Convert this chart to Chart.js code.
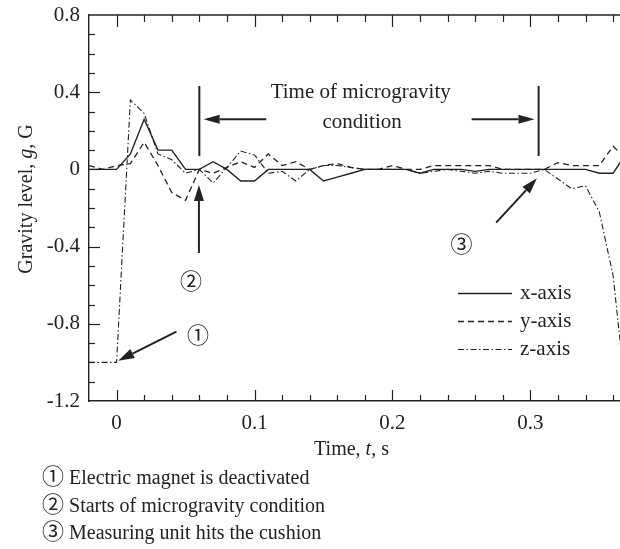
<!DOCTYPE html>
<html><head><meta charset="utf-8">
<script src="https://cdn.jsdelivr.net/npm/chart.js@4/dist/chart.umd.min.js"></script>
<style>
html,body{margin:0;padding:0;background:#fff;}
#wrap{position:relative;width:620px;height:549px;overflow:hidden;}
#c{position:absolute;left:0;top:0;}
.note{position:absolute;left:42px;font-family:"Liberation Serif","Times New Roman",serif;font-size:20px;color:#222;line-height:28px;white-space:nowrap;}
.note .n{font-family:"Noto Sans CJK JP",sans-serif;font-size:22px;line-height:20px;}
</style></head><body>
<div id="wrap">
<canvas id="c" width="620" height="549"></canvas>
<div class="note" style="top:463px"><span class="n">①</span> Electric magnet is deactivated</div>
<div class="note" style="top:491px"><span class="n">②</span> Starts of microgravity condition</div>
<div class="note" style="top:518px"><span class="n">③</span> Measuring unit hits the cushion</div>
</div>
<script>
// ---- data ----
const times = [-0.02,-0.01,0.00,0.01,0.02,0.03,0.04,0.05,0.06,0.07,0.08,0.09,0.10,0.11,0.12,0.13,0.14,0.15,0.16,0.17,0.18,0.19,0.20,0.21,0.22,0.23,0.24,0.25,0.26,0.27,0.28,0.29,0.30,0.31,0.32,0.33,0.34,0.35,0.36,0.37];
const gX = [0,0,0,0.08,0.26,0.10,0.10,0,0,0.04,0,-0.06,-0.06,0,0,0,0,-0.06,-0.04,-0.02,0,0,0,0,-0.02,0,0,0,-0.01,0,0,0,0,0,0,0,0,-0.02,-0.02,0.09];
const gY = [0.02,0,0.02,0.03,0.14,0.02,-0.12,-0.16,0,-0.02,0.01,0.04,0.01,0.08,0.02,0.04,0,0.02,0.03,0.01,0,0,0.02,0,0,0.02,0.02,0.02,0.02,0.02,0,0,0,0,0.035,0.02,0.02,0.02,0.12,0.05];
const gZ = [-1.0,-1.0,-1.0,0.36,0.29,0.08,0.05,-0.02,0,-0.07,0.01,0.095,0.075,-0.02,-0.01,-0.06,0,0.02,0.02,0.01,0,0,0,0,-0.02,-0.01,0,-0.01,-0.02,-0.01,-0.02,-0.02,-0.02,0,-0.05,-0.10,-0.085,-0.22,-0.55,-1.22];
const seriesLabels = ['x-axis','y-axis','z-axis'];
const xTickLabels = [0, 0.1, 0.2, 0.3];
const yTickLabels = [-1.2, -0.8, -0.4, 0, 0.4, 0.8];

const INK = '#222';
const SERIF = "'Liberation Serif','Times New Roman',serif";
const CJK = "'Noto Sans CJK JP',sans-serif";
const dashes = [[], [6,4], [6,2.5,1.5,2.5]];
const widths = [1.4, 1.3, 1.1];

const pts = arr => times.map((t,i)=>({x:t, y:arr[i]}));

function drawArrow(ctx,x1,y1,x2,y2,head,hw){
  const a = Math.atan2(y2-y1,x2-x1);
  const bx = x2-head*Math.cos(a), by = y2-head*Math.sin(a);
  ctx.beginPath(); ctx.moveTo(x1,y1); ctx.lineTo(bx,by); ctx.stroke();
  ctx.beginPath(); ctx.moveTo(x2,y2);
  ctx.lineTo(bx+hw*Math.sin(a), by-hw*Math.cos(a));
  ctx.lineTo(bx-hw*Math.sin(a), by+hw*Math.cos(a));
  ctx.closePath(); ctx.fill();
}
function mixedText(ctx, parts, cx, cy, size){
  let total = 0;
  parts.forEach(p=>{ ctx.font = (p[1]?'italic ':'')+size+'px '+SERIF; total += ctx.measureText(p[0]).width; });
  let x = cx - total/2;
  ctx.textAlign='left';
  parts.forEach(p=>{ ctx.font = (p[1]?'italic ':'')+size+'px '+SERIF; ctx.fillText(p[0], x, cy); x += ctx.measureText(p[0]).width; });
}

const decor = {
  id:'decor',
  afterDatasetsDraw(chart){
    const {ctx, chartArea:ca, scales:{x,y}} = chart;
    ctx.save();
    ctx.strokeStyle = INK; ctx.fillStyle = INK; ctx.lineCap='butt';
    // top border
    ctx.lineWidth = 1.4;
    ctx.beginPath(); ctx.moveTo(ca.left, ca.top); ctx.lineTo(ca.right, ca.top); ctx.stroke();
    // inward ticks
    ctx.lineWidth = 1.2;
    for (let k=-11;k<=7;k++){
      const py = Math.round(y.getPixelForValue(k/10))+0.5;
      const len = (k%4===0) ? 11 : 6;
      ctx.beginPath(); ctx.moveTo(ca.left, py); ctx.lineTo(ca.left+len, py); ctx.stroke();
    }
    for (let k=0;k<=18;k++){
      const px = Math.round(x.getPixelForValue(k*0.02))+0.5;
      const major = (k%5===0);
      ctx.beginPath(); ctx.moveTo(px, ca.bottom); ctx.lineTo(px, ca.bottom-(major?11:6)); ctx.stroke();
      ctx.beginPath(); ctx.moveTo(px, ca.top); ctx.lineTo(px, ca.top+(major?12:7)); ctx.stroke();
    }
    // microgravity window bars and arrows
    ctx.lineWidth = 2;
    [0.06, 0.306].forEach(t=>{
      const px = x.getPixelForValue(t);
      ctx.beginPath(); ctx.moveTo(px, y.getPixelForValue(0.432)); ctx.lineTo(px, y.getPixelForValue(0.069)); ctx.stroke();
    });
    const ay = y.getPixelForValue(0.26);
    drawArrow(ctx, x.getPixelForValue(0.1085), ay, x.getPixelForValue(0.0631), ay, 16, 4.5);
    drawArrow(ctx, x.getPixelForValue(0.2574), ay, x.getPixelForValue(0.303), ay, 16, 4.5);
    // event arrows
    drawArrow(ctx, x.getPixelForValue(0.0597), y.getPixelForValue(-0.433), x.getPixelForValue(0.0597), y.getPixelForValue(-0.081), 16, 5);
    drawArrow(ctx, x.getPixelForValue(0.0434), y.getPixelForValue(-0.841), x.getPixelForValue(0.0012), y.getPixelForValue(-0.991), 16, 5);
    drawArrow(ctx, x.getPixelForValue(0.2752), y.getPixelForValue(-0.276), x.getPixelForValue(0.3048), y.getPixelForValue(-0.046), 16, 5);
    // texts
    ctx.textAlign='center'; ctx.textBaseline='middle';
    ctx.font = '21px '+SERIF;
    ctx.fillText('Time of microgravity', x.getPixelForValue(0.177), y.getPixelForValue(0.40));
    ctx.fillText('condition', x.getPixelForValue(0.178), y.getPixelForValue(0.245));
    ctx.font = '22px '+CJK;
    ctx.fillText('②', x.getPixelForValue(0.054), y.getPixelForValue(-0.578));
    ctx.fillText('①', x.getPixelForValue(0.059), y.getPixelForValue(-0.858));
    ctx.fillText('③', x.getPixelForValue(0.250), y.getPixelForValue(-0.387));
    // legend
    const lx0 = ca.left+369, lx1 = ca.left+423, ly0 = ca.top+278, lstep = 28;
    chart.data.datasets.forEach((ds,i)=>{
      const ly = ly0 + i*lstep;
      ctx.lineWidth = ds.borderWidth; ctx.setLineDash(ds.borderDash||[]);
      ctx.beginPath(); ctx.moveTo(lx0, ly+0.5); ctx.lineTo(lx1, ly+0.5); ctx.stroke();
      ctx.setLineDash([]);
      ctx.font = '21px '+SERIF; ctx.textAlign='left'; ctx.textBaseline='middle';
      ctx.fillText(ds.label, lx1+8, ly);
    });
    // axis titles
    ctx.textBaseline='alphabetic';
    mixedText(ctx, [['Time, ',false],['t',true],[', s',false]], (ca.left+ca.right)/2 - 3, 455, 20);
    ctx.save();
    ctx.translate(27, 199); ctx.rotate(-Math.PI/2);
    ctx.textBaseline='middle';
    mixedText(ctx, [['Gravity level, ',false],['g',true],[', G',false]], 0, 0, 20);
    ctx.restore();
    ctx.restore();
  }
};

Chart.defaults.font.family = SERIF;
Chart.defaults.font.size = 21;
Chart.defaults.color = INK;

new Chart(document.getElementById('c'), {
  type:'line',
  data:{
    datasets:[gX,gY,gZ].map((arr,i)=>({
      label: seriesLabels[i],
      data: pts(arr),
      borderColor: INK,
      borderWidth: widths[i],
      borderDash: dashes[i],
      pointRadius: 0,
      tension: 0,
      fill: false,
      clip: 0
    }))
  },
  options:{
    responsive:false,
    animation:false,
    layout:{padding:{top:15,left:0,right:0,bottom:0}},
    plugins:{legend:{display:false}, tooltip:{enabled:false}},
    scales:{
      x:{
        type:'linear', min:-0.02, max:0.365,
        grid:{display:false, drawTicks:false},
        border:{display:true, color:INK, width:1.4},
        afterBuildTicks(s){ s.ticks = xTickLabels.map(v=>({value:v})); },
        afterFit(s){ s.height = 148; s.paddingLeft = 0; s.paddingRight = 0; },
        ticks:{autoSkip:false, maxRotation:0, padding:10, color:INK, font:{size:21}, callback:v=>String(v)}
      },
      y:{
        type:'linear', min:-1.2, max:0.8,
        grid:{display:false, drawTicks:false},
        border:{display:true, color:INK, width:1.4},
        afterBuildTicks(s){ s.ticks = yTickLabels.map(v=>({value:v})); },
        afterFit(s){ s.width = 89; s.paddingTop = 0; s.paddingBottom = 0; },
        ticks:{autoSkip:false, padding:9, color:INK, font:{size:21}, callback:v=>String(v)}
      }
    }
  },
  plugins:[decor]
});
</script>
</body></html>
